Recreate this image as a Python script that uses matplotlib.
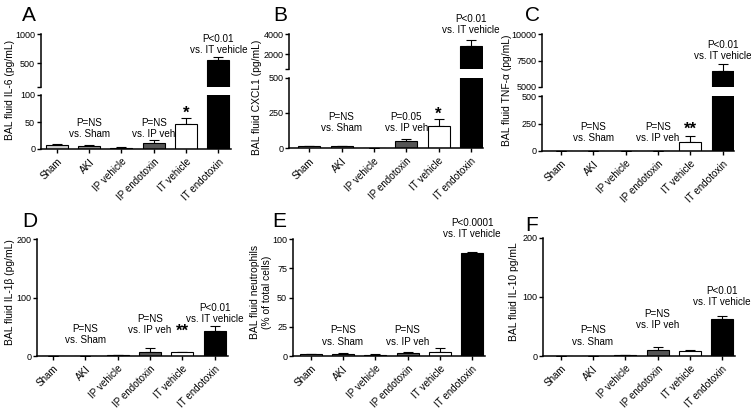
import matplotlib
matplotlib.use("Agg")
import matplotlib.pyplot as plt
import numpy as np

plt.rcParams['font.family'] = ['Liberation Sans', 'DejaVu Sans']

W, H = 751, 409

groups = ['Sham', 'AKI', 'IP vehicle', 'IP endotoxin', 'IT vehicle', 'IT endotoxin']
colors = ['#cfcfcf', '#8f8f8f', '#b8b8b8', '#555555', 'white', 'black']

il6_mean = [7, 5, 2.5, 10.5, 45.5, 560]
il6_err = [2, 1.5, 0.5, 5.5, 11, 58]
cxcl1_mean = [14, 15, 4, 52, 160, 2790]
cxcl1_err = [3, 4, 1, 17, 50, 590]
tnf_mean = [0, 0, 0, 0, 86, 6490]
tnf_err = [0, 0, 0, 0, 52, 680]
il1b_mean = [0.3, 0.3, 1, 7.5, 6.4, 42]
il1b_err = [0.1, 0.1, 0.3, 5.5, 1, 9]
neut_mean = [1.3, 2, 1, 2.6, 3.4, 88]
neut_err = [0.4, 0.4, 0.3, 0.6, 3.2, 1.5]
il10_mean = [0.3, 0.3, 1, 10, 8, 62]
il10_err = [0.1, 0.1, 0.3, 5, 2, 5]

FS = 7.1


def rect(left, right, top, bottom):
    return [left / W, 1 - bottom / H, (right - left) / W, (bottom - top) / H]


def draw_bars(ax, mean, err):
    x = np.arange(len(groups))
    ax.bar(x, mean, width=0.68, color=colors, edgecolor='black', linewidth=0.8, zorder=2)
    ax.errorbar(x, mean, yerr=[np.zeros(len(err)), err], fmt='none', ecolor='black',
                elinewidth=0.8, capsize=3.4, capthick=0.8, zorder=1)


def style(ax, xlim, bottom=True):
    ax.set_xlim(*xlim)
    for s in ['top', 'right']:
        ax.spines[s].set_visible(False)
    ax.spines['left'].set_linewidth(1.1)
    ax.tick_params(axis='y', direction='out', length=3, width=1, labelsize=6.5, pad=1)
    if bottom:
        ax.spines['bottom'].set_linewidth(1.1)
        ax.set_xticks(np.arange(len(groups)))
        ax.set_xticklabels(groups, rotation=45, ha='right', rotation_mode='anchor', fontsize=FS)
        ax.tick_params(axis='x', direction='out', length=3, width=1, pad=2.5)
    else:
        ax.spines['bottom'].set_visible(False)
        ax.set_xticks([])


def note(ax, x, y, text):
    ax.text(x, y, text, ha='center', va='bottom', fontsize=FS, linespacing=1.15, clip_on=False)


def star(ax, x, y, text):
    ax.text(x, y, text, ha='center', va='bottom', fontsize=12, fontweight='bold', clip_on=False)


fig = plt.figure(figsize=(W / 100, H / 100), dpi=100)

# A - IL-6, broken axis
a_hi = fig.add_axes(rect(40.7, 231.3, 34.3, 86.7))
a_lo = fig.add_axes(rect(40.7, 231.3, 95, 149))
for ax in (a_hi, a_lo):
    draw_bars(ax, il6_mean, il6_err)
a_hi.set_ylim(100, 1000)
a_hi.set_yticks([100, 500, 1000], ['', '500', '1000'])
a_lo.set_ylim(0, 100)
a_lo.set_yticks([0, 50, 100])
style(a_hi, (-0.5, 5.4), bottom=False)
style(a_lo, (-0.5, 5.4))
note(a_lo, 1, 18, 'P=NS\nvs. Sham')
note(a_lo, 3, 18, 'P=NS\nvs. IP veh')
star(a_lo, 4, 52, '*')
note(a_hi, 5, 640, 'P<0.01\nvs. IT vehicle')

# B - CXCL1, broken axis
b_hi = fig.add_axes(rect(289.3, 482.5, 34, 69))
b_lo = fig.add_axes(rect(289.3, 482.5, 77.7, 148.3))
for ax in (b_hi, b_lo):
    draw_bars(ax, cxcl1_mean, cxcl1_err)
b_hi.set_ylim(500, 4000)
b_hi.set_yticks([500, 2000, 4000], ['', '2000', '4000'])
b_lo.set_ylim(0, 500)
b_lo.set_yticks([0, 250, 500])
style(b_hi, (-0.62, 5.36), bottom=False)
style(b_lo, (-0.62, 5.36))
note(b_lo, 1, 105, 'P=NS\nvs. Sham')
note(b_lo, 3, 105, 'P=0.05\nvs. IP veh')
star(b_lo, 4, 185, '*')
note(b_hi, 5, 3900, 'P<0.01\nvs. IT vehicle')

# C - TNF-alpha, broken axis
c_hi = fig.add_axes(rect(542.3, 734.4, 34.3, 87))
c_lo = fig.add_axes(rect(542.3, 734.4, 96, 151))
for ax in (c_hi, c_lo):
    draw_bars(ax, tnf_mean, tnf_err)
c_hi.set_ylim(5000, 10000)
c_hi.set_yticks([5000, 7500, 10000])
c_lo.set_ylim(0, 500)
c_lo.set_yticks([0, 250, 500])
style(c_hi, (-0.57, 5.36), bottom=False)
style(c_lo, (-0.57, 5.36))
note(c_lo, 1, 72, 'P=NS\nvs. Sham')
note(c_lo, 3, 72, 'P=NS\nvs. IP veh')
star(c_lo, 4, 125, '**')
note(c_hi, 5, 7450, 'P<0.01\nvs. IT vehicle')

# D - IL-1beta
d = fig.add_axes(rect(37, 227.6, 239.3, 356))
draw_bars(d, il1b_mean, il1b_err)
d.set_ylim(0, 200)
d.set_yticks([0, 100, 200])
style(d, (-0.5, 5.4))
note(d, 1, 19, 'P=NS\nvs. Sham')
note(d, 3, 36, 'P=NS\nvs. IP veh')
star(d, 4, 29, '**')
note(d, 5, 54, 'P<0.01\nvs. IT vehicle')

# E - neutrophils
e = fig.add_axes(rect(292.7, 485, 239.3, 356))
draw_bars(e, neut_mean, neut_err)
e.set_ylim(0, 100)
e.set_yticks([0, 25, 50, 75, 100])
style(e, (-0.56, 5.4))
note(e, 1, 8, 'P=NS\nvs. Sham')
note(e, 3, 8, 'P=NS\nvs. IP veh')
note(e, 5, 100.5, 'P<0.0001\nvs. IT vehicle')

# F - IL-10
f = fig.add_axes(rect(542.7, 735, 237.7, 356))
draw_bars(f, il10_mean, il10_err)
f.set_ylim(0, 200)
f.set_yticks([0, 100, 200])
style(f, (-0.56, 5.4))
note(f, 1, 16, 'P=NS\nvs. Sham')
note(f, 3, 44, 'P=NS\nvs. IP veh')
note(f, 5, 83, 'P<0.01\nvs. IT vehicle')

# y labels
ylabels = [
    (10, 90, 'BAL fluid IL-6 (pg/mL)'),
    (257, 97, 'BAL fluid CXCL1 (pg/mL)'),
    (507, 90, 'BAL fluid TNF-α (pg/mL)'),
    (10, 292, 'BAL fluid IL-1β (pg/mL)'),
    (261, 292, 'BAL fluid neutrophils\n(% of total cells)'),
    (514, 292, 'BAL fluid IL-10 pg/mL'),
]
for x, y, t in ylabels:
    fig.text(x / W, 1 - y / H, t, rotation=90, ha='center', va='center', fontsize=7.4,
             linespacing=1.2)

# panel letters
letters = [(22, 6, 'A'), (273, 6, 'B'), (525, 6, 'C'), (22, 212, 'D'), (272, 212, 'E'), (525, 216, 'F')]
for x, y, t in letters:
    fig.text(x / W, 1 - y / H, t, ha='left', va='top', fontsize=15)

fig.savefig('out.png', dpi=100)
